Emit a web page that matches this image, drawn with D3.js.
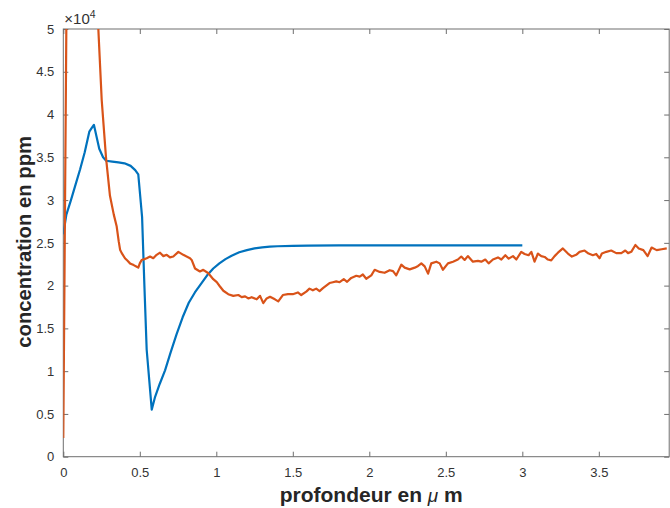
<!DOCTYPE html>
<html><head><meta charset="utf-8">
<script src="https://cdn.jsdelivr.net/npm/d3@7"></script>
<style>
html,body{margin:0;padding:0;background:#fff;}
svg{display:block;font-family:"Liberation Sans",Arial,Helvetica,sans-serif;}
</style></head>
<body>
<svg id="chart" width="670" height="508"></svg>
<script>
// ---- data (depth in µm, concentration in ppm) ----
const blueX = [0,0.02,0.05,0.08,0.11,0.14,0.17,0.185,0.20,0.22,0.235,0.26,0.28,0.32,0.36,0.40,0.44,0.47,0.49,0.50,0.515,0.53,0.545,0.578,0.60,0.63,0.665,0.70,0.74,0.78,0.82,0.86,0.90,0.94,0.98,1.02,1.06,1.10,1.15,1.20,1.25,1.30,1.35,1.40,1.50,1.60,1.80,2.00,2.50,3.00];
const blueY = [26000,28300,30000,31800,33600,35600,38000,38400,38800,37200,36000,35000,34600,34500,34400,34300,34000,33500,33000,31000,28000,20000,12500,5500,7000,8500,10100,12100,14300,16300,18000,19200,20200,21200,22000,22600,23100,23500,23900,24150,24350,24480,24550,24600,24650,24680,24700,24700,24700,24700];

const orangeX = [0,0.02,0.04,0.20,0.229,0.251,0.279,0.305,0.330,0.349,0.362,0.371,0.382,0.403,0.420,0.436,0.460,0.480,0.490,0.500,0.512,0.530,0.545,0.567,0.588,0.610,0.632,0.654,0.676,0.697,0.719,0.752,0.784,0.828,0.839,0.861,0.893,0.915,0.948,0.980,1.003,1.024,1.046,1.078,1.111,1.144,1.166,1.188,1.209,1.231,1.264,1.286,1.307,1.329,1.351,1.383,1.405,1.435,1.468,1.500,1.533,1.555,1.588,1.609,1.631,1.653,1.675,1.697,1.740,1.762,1.784,1.806,1.833,1.855,1.882,1.915,1.937,1.958,1.980,2.013,2.035,2.068,2.100,2.133,2.155,2.176,2.209,2.231,2.264,2.297,2.319,2.340,2.362,2.384,2.405,2.438,2.460,2.481,2.514,2.547,2.579,2.601,2.623,2.644,2.677,2.710,2.732,2.758,2.780,2.808,2.841,2.863,2.889,2.911,2.939,2.961,2.993,3.015,3.041,3.059,3.080,3.102,3.124,3.146,3.167,3.189,3.211,3.233,3.265,3.298,3.324,3.352,3.374,3.407,3.433,3.461,3.483,3.505,3.520,3.549,3.581,3.614,3.647,3.673,3.691,3.712,3.739,3.761,3.791,3.819,3.845,3.878,3.911,3.944];
const orangeY = [2200,50500,70000,70000,50000,41700,35000,30500,28300,26900,25200,24200,23800,23200,22900,22600,22400,22200,22100,22600,23000,23100,23200,23400,23200,23600,23850,23450,23600,23300,23400,23950,23600,23200,23000,22000,21650,21850,21450,20750,20400,19900,19400,19000,18800,18900,18650,18750,18500,18650,18400,18800,17950,18500,18700,18400,18150,18900,19000,19000,19200,18900,19300,19650,19450,19650,19350,19700,20300,20400,20500,20400,20750,20450,20900,21150,21050,21300,20800,21200,21850,21600,21500,21800,21700,21200,22450,22100,21900,22100,22300,22600,22250,21400,22600,22800,22600,21850,22600,22800,23050,23400,23000,23450,22800,22900,22800,23050,22600,23050,23300,23050,23550,23150,23450,23050,23950,23700,23550,23950,22800,23750,23450,23350,23050,22950,23450,23850,24350,23750,23400,23600,23950,24100,23750,23550,23700,23200,23750,23950,24100,23800,23800,24100,23800,23950,24750,24350,24150,23450,24450,24150,24250,24350];

const xTicks = [0,0.5,1,1.5,2,2.5,3,3.5];
const xTickLabels = ["0","0.5","1","1.5","2","2.5","3","3.5"];
const yTicks = [0,5000,10000,15000,20000,25000,30000,35000,40000,45000,50000];
const yTickLabels = ["0","0.5","1","1.5","2","2.5","3","3.5","4","4.5","5"];
const xLabel = "profondeur en ";
const yLabel = "concentration en ppm";

// ---- layout ----
const L = 63.3, R = 669.2, T = 29, B = 456.7;
const svg = d3.select("#chart");
const x = d3.scaleLinear().domain([0, 3.96]).range([L, R]);
const y = d3.scaleLinear().domain([0, 50000]).range([B, T]);
const axisColor = "#6e6e6e", textColor = "#333";

svg.append("defs").append("clipPath").attr("id","clip")
  .append("rect").attr("x",L).attr("y",T).attr("width",R-L).attr("height",B-T);

function styleAxis(g){
  g.select(".domain").remove();
  g.selectAll(".tick line").attr("stroke",axisColor).attr("stroke-width",1);
  g.selectAll(".tick text").attr("fill",textColor).attr("font-size",13)
    .attr("font-family","'Liberation Sans',Arial,Helvetica,sans-serif");
}
svg.append("g").attr("transform",`translate(0,${B})`)
  .call(d3.axisBottom(x).tickValues(xTicks).tickFormat((d,i)=>xTickLabels[i]).tickSizeInner(-5).tickSizeOuter(0).tickPadding(11))
  .call(styleAxis);
svg.append("g").attr("transform",`translate(0,${T})`)
  .call(d3.axisTop(x).tickValues(xTicks).tickFormat("").tickSizeInner(-5).tickSizeOuter(0))
  .call(styleAxis);
svg.append("g").attr("transform",`translate(${L},0)`)
  .call(d3.axisLeft(y).tickValues(yTicks).tickFormat((d,i)=>yTickLabels[i]).tickSizeInner(-5).tickSizeOuter(0).tickPadding(9))
  .call(styleAxis);
svg.append("g").attr("transform",`translate(${R},0)`)
  .call(d3.axisRight(y).tickValues(yTicks).tickFormat("").tickSizeInner(-5).tickSizeOuter(0))
  .call(styleAxis);

svg.append("rect").attr("x",L).attr("y",T).attr("width",R-L).attr("height",B-T)
  .attr("fill","none").attr("stroke",axisColor).attr("stroke-width",1);

const line = d3.line().x(d=>x(d[0])).y(d=>y(d[1]));
const plot = svg.append("g").attr("clip-path","url(#clip)");
plot.append("path").datum(blueX.map((v,i)=>[v,blueY[i]]))
  .attr("d",line).attr("fill","none").attr("stroke","#0072BD").attr("stroke-width",2.2).attr("stroke-linejoin","round");
plot.append("path").datum(orangeX.map((v,i)=>[v,orangeY[i]]))
  .attr("d",line).attr("fill","none").attr("stroke","#D95319").attr("stroke-width",2.2).attr("stroke-linejoin","round");

// exponent
const ex = svg.append("text").attr("x",L+1).attr("y",24).attr("fill",textColor).attr("font-size",15);
ex.append("tspan").text("\u00d710");
ex.append("tspan").attr("font-size",10.5).attr("dy",-6).text("4");

// axis labels
const xl = svg.append("text").attr("x",(L+R)/2+5).attr("y",502).attr("text-anchor","middle")
  .attr("font-size",21).attr("font-weight","bold").attr("fill","#262626");
xl.append("tspan").text(xLabel);
xl.append("tspan").attr("font-weight","normal").attr("font-style","italic").attr("font-size",19).text("\u03bc");
xl.append("tspan").text(" m");

svg.append("text").attr("transform",`translate(31,${(T+B)/2-1}) rotate(-90)`).attr("text-anchor","middle")
  .attr("font-size",20.3).attr("font-weight","bold").attr("fill","#262626").text(yLabel);
</script>
</body></html>
